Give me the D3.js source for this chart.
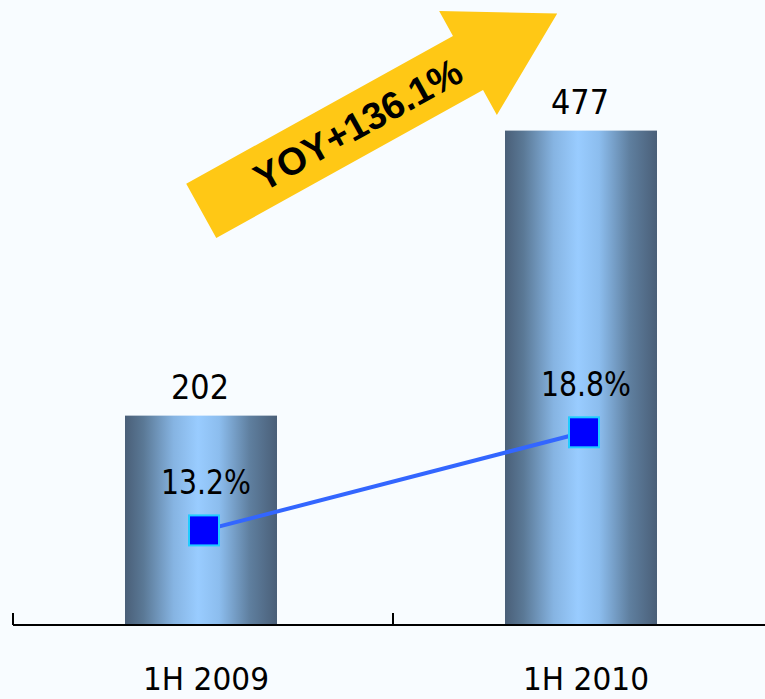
<!DOCTYPE html>
<html>
<head>
<meta charset="utf-8">
<script src="https://cdn.jsdelivr.net/npm/d3@7"></script>
<style>
  html, body { margin: 0; padding: 0; background: #f8fcff; }
  svg { display: block; }
</style>
</head>
<body>
<script>
// ---- data ----
const categories = ["1H 2009", "1H 2010"];
const revenue = [202, 477];
const revenueLabels = ["202", "477"];
const margin = [13.2, 18.8];
const marginLabels = ["13.2%", "18.8%"];
const growthLabel = "YOY+136.1%";

const W = 765, H = 699;
const svg = d3.select("body").append("svg").attr("width", W).attr("height", H);
svg.append("rect").attr("width", W).attr("height", H).attr("fill", "#f8fcff");

const axisY = 625;
const x = d3.scaleBand().domain(categories).range([13, 773]).padding(0);
const y = d3.scaleLinear().domain([0, 603]).range([axisY, 0]);
const y2 = d3.scaleLinear().domain([7.8, 36]).range([axisY, 131]);
const barW = x.bandwidth() * 0.4;
const cx = d => x(d) + x.bandwidth() / 2 - 2;

// gradient
const defs = svg.append("defs");
const grad = defs.append("linearGradient").attr("id", "barGrad")
  .attr("x1", "0").attr("x2", "1").attr("y1", "0").attr("y2", "0");
[[0, "#4a5f78"], [0.12, "#5a7895"], [0.32, "#86b4e2"], [0.48, "#99ccff"],
 [0.62, "#8cbdee"], [0.82, "#5f7f9f"], [1, "#4a5f78"]]
  .forEach(([o, c]) => grad.append("stop").attr("offset", o).attr("stop-color", c));

// bars
svg.selectAll("rect.bar").data(categories).join("rect")
  .attr("class", "bar")
  .attr("x", d => cx(d) - barW / 2)
  .attr("width", barW)
  .attr("y", (d, i) => y(revenue[i]))
  .attr("height", (d, i) => axisY - y(revenue[i]))
  .attr("fill", "url(#barGrad)");

// axis
svg.append("line").attr("x1", x.range()[0]).attr("x2", W).attr("y1", axisY).attr("y2", axisY)
  .attr("stroke", "#000").attr("stroke-width", 2);
svg.selectAll("line.tick").data(categories).join("line")
  .attr("class", "tick")
  .attr("x1", d => x(d)).attr("x2", d => x(d))
  .attr("y1", axisY - 12).attr("y2", axisY)
  .attr("stroke", "#000").attr("stroke-width", 2);

const font = "'DejaVu Sans', sans-serif";

// category labels
svg.selectAll("text.cat").data(categories).join("text")
  .attr("class", "cat")
  .attr("x", d => cx(d) + 5).attr("y", 690)
  .attr("text-anchor", "middle")
  .attr("font-family", font).attr("font-size", 32)
  .attr("textLength", 126).attr("lengthAdjust", "spacingAndGlyphs")
  .attr("fill", "#000").text(d => d);

// value labels
svg.selectAll("text.val").data(categories).join("text")
  .attr("class", "val")
  .attr("x", d => cx(d) - 1).attr("y", (d, i) => y(revenue[i]) - 17)
  .attr("text-anchor", "middle")
  .attr("font-family", font).attr("font-size", 34)
  .attr("textLength", 58).attr("lengthAdjust", "spacingAndGlyphs")
  .attr("fill", "#000").text((d, i) => revenueLabels[i]);

// margin line
const mx = d => cx(d) + 3;
svg.append("path")
  .datum(categories)
  .attr("d", d3.line().x(d => mx(d)).y((d, i) => y2(margin[i])))
  .attr("fill", "none").attr("stroke", "#3366ff").attr("stroke-width", 4);

const ms = 30;
svg.selectAll("rect.mk").data(categories).join("rect")
  .attr("class", "mk")
  .attr("x", d => mx(d) - ms / 2).attr("y", (d, i) => y2(margin[i]) - ms / 2)
  .attr("width", ms).attr("height", ms)
  .attr("fill", "#0000ff").attr("stroke", "#22ccff").attr("stroke-width", 2);

svg.selectAll("text.pct").data(categories).join("text")
  .attr("class", "pct")
  .attr("x", d => mx(d) + 2).attr("y", (d, i) => y2(margin[i]) - 36)
  .attr("text-anchor", "middle")
  .attr("font-family", font).attr("font-size", 34)
  .attr("textLength", 90).attr("lengthAdjust", "spacingAndGlyphs")
  .attr("fill", "#000").text((d, i) => marginLabels[i]);

// growth arrow annotation
const arrow = svg.append("g").attr("transform", "translate(468,63) rotate(-29)");
const shaftLen = 305, halfShaft = 31, halfHead = 59.5, headLen = 102;
arrow.append("polygon")
  .attr("points", [
    [-shaftLen, -halfShaft], [0, -halfShaft], [0, -halfHead], [headLen, 0],
    [0, halfHead], [0, halfShaft], [-shaftLen, halfShaft]
  ].map(p => p.join(",")).join(" "))
  .attr("fill", "#ffc815");
arrow.append("text")
  .attr("x", -126).attr("y", 0)
  .attr("dy", "0.36em")
  .attr("text-anchor", "middle")
  .attr("font-family", "'Liberation Sans', Arial, sans-serif")
  .attr("font-weight", "bold").attr("font-size", 38)
  .attr("fill", "#000").text(growthLabel);
</script>
</body>
</html>
